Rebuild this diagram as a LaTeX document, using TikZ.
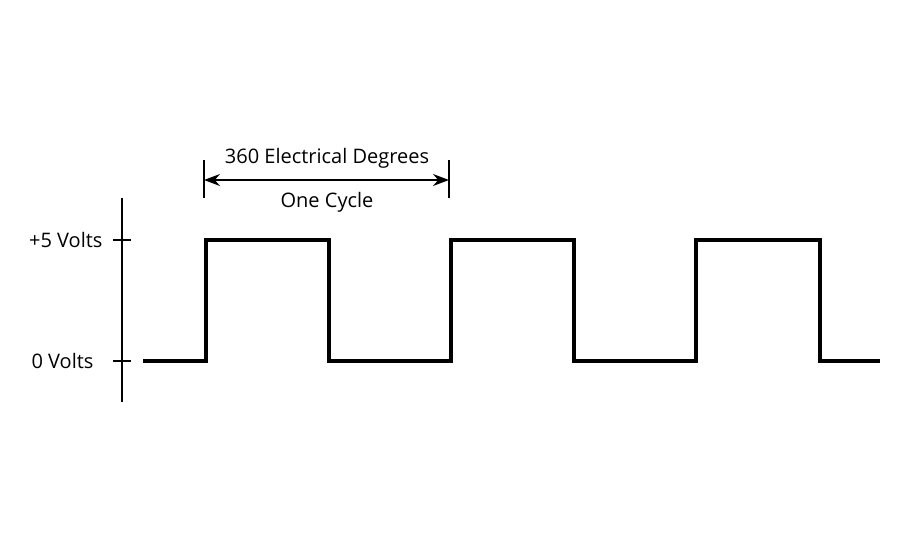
\documentclass[tikz,border=0pt]{standalone}
\usepackage{fontspec}
\setmainfont{Open Sans}
\usetikzlibrary{positioning,arrows.meta}
\tikzset{
  axis line/.style={line width=1.6pt},
  wave line/.style={line width=4.5pt, line join=miter},
  volt label/.style={anchor=east, font=\fontsize{20}{22}\selectfont},
  cycle label/.style={font=\fontsize{20}{22}\selectfont},
}
\begin{document}
\begin{tikzpicture}[x=1pt,y=-1pt]
  \useasboundingbox (0,0) rectangle (900,550);
  % axis and ticks
  \draw [axis line] (122,198) -- (122,402);
  \coordinate (hi) at (122,240);
  \coordinate (lo) at (122,361);
  \draw [axis line] (113,240) -- (131,240);
  \draw [axis line] (113,361) -- (131,361);
  \node [volt label] (vhi) at (106,240) {+5 Volts};
  \node [volt label] (vlo) at (97,361) {0 Volts};
  % square wave
  \draw [wave line] (143,361) -- (206,361) -- (206,240) -- (329,240) -- (329,361)
    -- (451,361) -- (451,240) -- (574,240) -- (574,361) -- (696,361) -- (696,240)
    -- (820,240) -- (820,361) -- (880,361);
  % one cycle marker
  \draw [axis line] (204,160) -- (204,198);
  \draw [axis line] (449,160) -- (449,198);
  \coordinate (c1) at (204,180);
  \coordinate (c2) at (449,180);
  \draw [axis line, {Stealth[length=16pt,width=12pt]}-{Stealth[length=16pt,width=12pt]}] (c1) -- (c2);
  \node [cycle label] (deg) at (327,158) {360 Electrical Degrees};
  \node [cycle label] (cyc) at (327,202) {One Cycle};
\end{tikzpicture}
\end{document}
